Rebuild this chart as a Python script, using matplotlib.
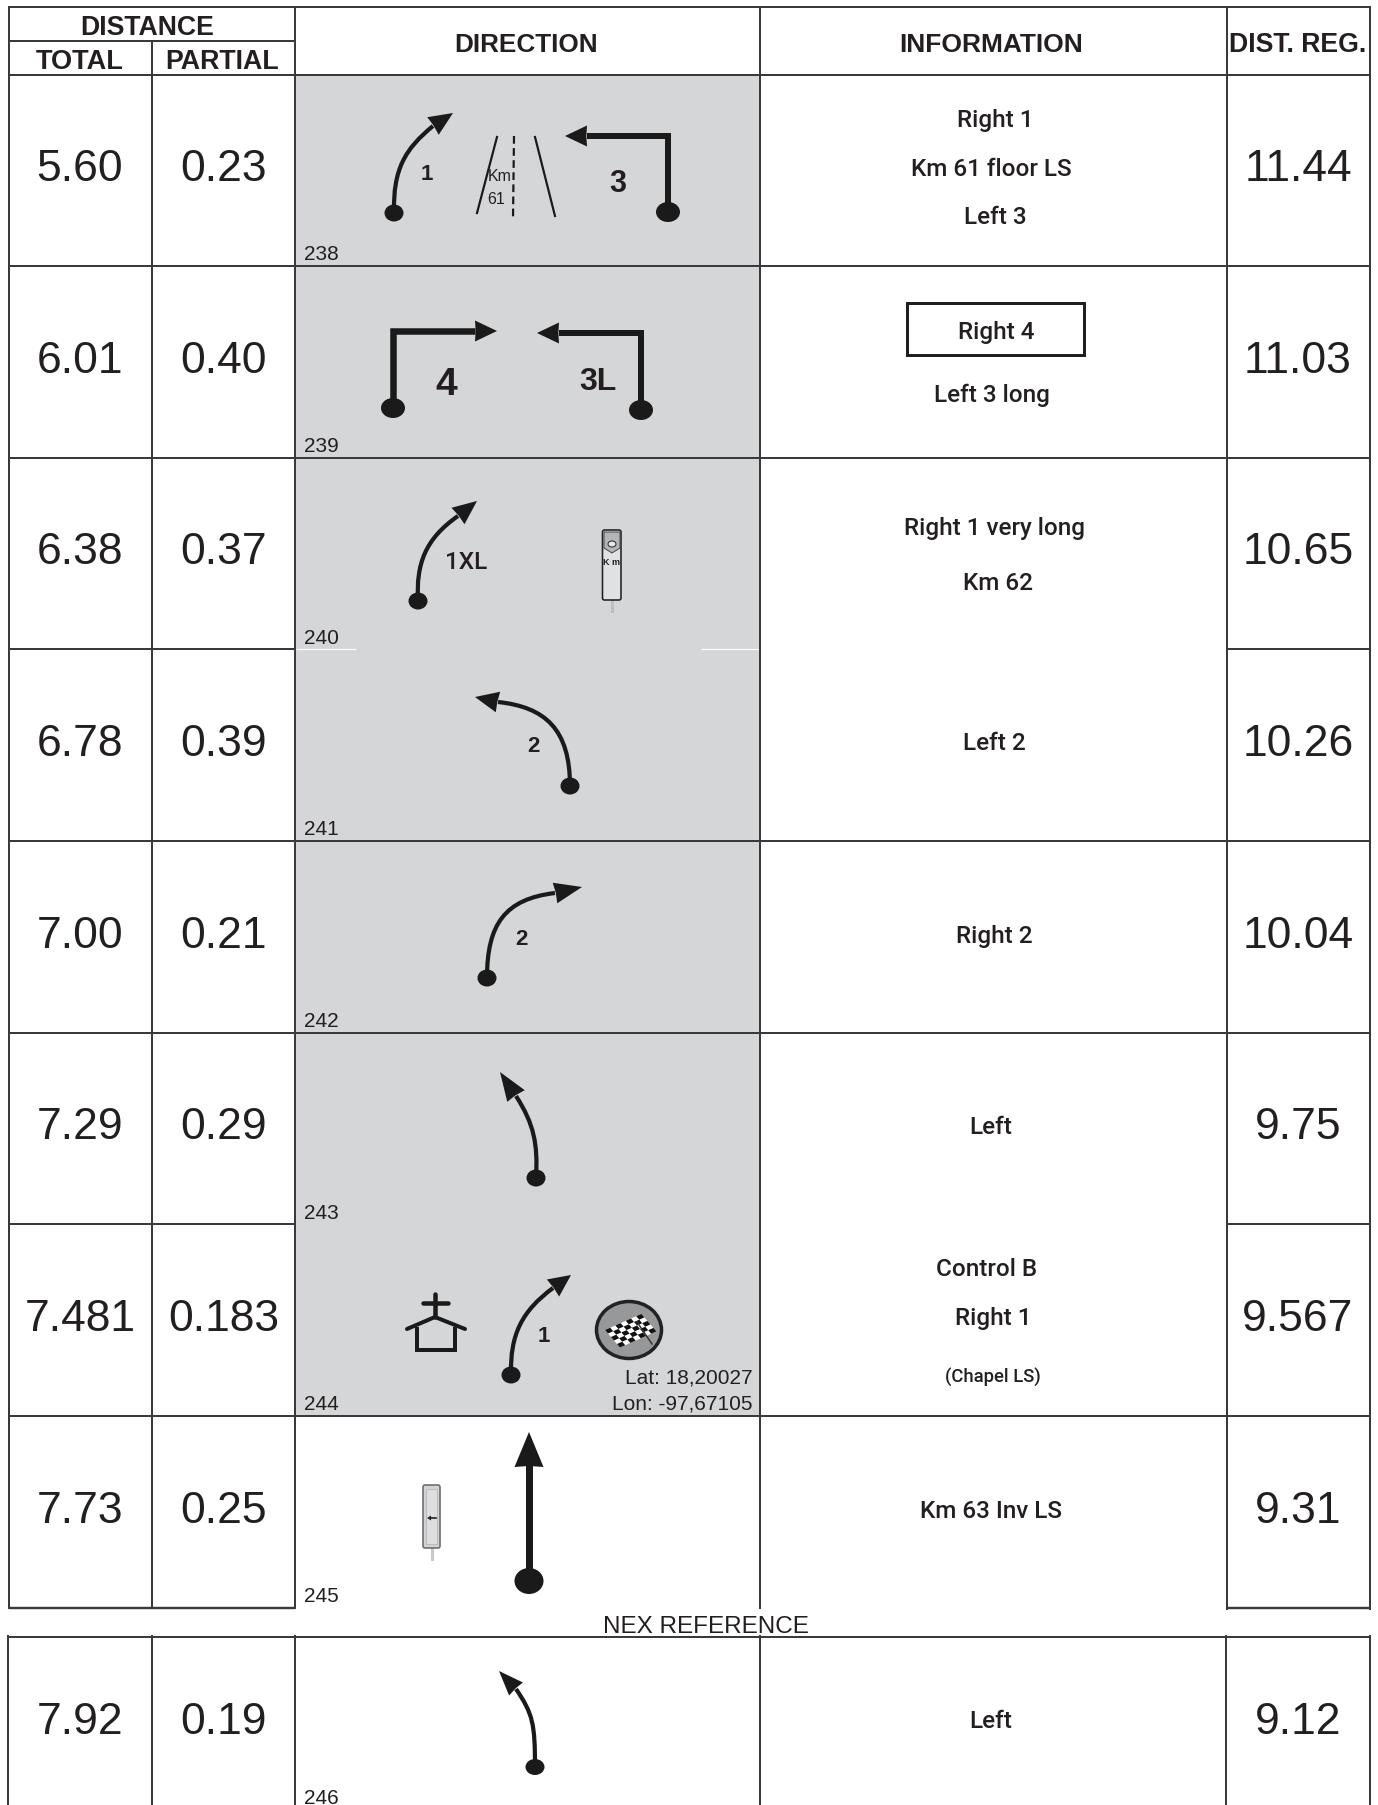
import numpy as np
import matplotlib
matplotlib.use("Agg")
import matplotlib.pyplot as plt
from matplotlib.path import Path
from matplotlib.patches import PathPatch, Ellipse, Polygon, Rectangle, FancyBboxPatch

# ---------- values ----------
refs = [238, 239, 240, 241, 242, 243, 244, 245, 246]
total = ["5.60", "6.01", "6.38", "6.78", "7.00", "7.29", "7.481", "7.73", "7.92"]
partial = ["0.23", "0.40", "0.37", "0.39", "0.21", "0.29", "0.183", "0.25", "0.19"]
dist_reg = ["11.44", "11.03", "10.65", "10.26", "10.04", "9.75", "9.567", "9.31", "9.12"]
info_text = ["Right 1", "Km 61 floor LS", "Left 3", "Right 4", "Left 3 long", "Right 1 very long",
             "Km 62", "Left 2", "Right 2", "Left", "Control B", "Right 1", "(Chapel LS)",
             "Km 63 Inv LS", "Left"]
headers = ["DISTANCE", "TOTAL", "PARTIAL", "DIRECTION", "INFORMATION", "DIST. REG."]
gps = ["Lat: 18,20027", "Lon: -97,67105"]
next_ref = "NEX REFERENCE"

# ---------- layout (pixels) ----------
W, H = 1378, 1806
row_y = [76, 267, 459, 650, 842, 1034, 1225, 1417, 1609]
cols = [8.5, 152, 295, 760, 1226.5, 1370]
cols2 = [8, 151.5, 294.5, 759.5, 1226, 1369.5]
num_y = [165, 357, 548, 740, 932, 1123, 1315, 1507, 1718]
ref_y = [253, 445, 637, 828, 1020, 1212, 1403, 1595, 1797]
info_xy = [(995.5, 120), (991, 168), (995.5, 217), (996.5, 331), (992, 395), (994, 528),
           (998, 583), (994, 743), (994, 936), (991, 1127), (987, 1269), (993, 1318),
           (993, 1377), (991, 1511), (991, 1721)]
INK = "#231f20"
LINE = "#3a3a3c"
GRAY = "#d5d6d8"
px = 0.72  # points per pixel at 100 dpi

fig = plt.figure(figsize=(W / 100, H / 100), dpi=100, facecolor="white")
ax = fig.add_axes([0, 0, 1, 1])
ax.set_xlim(0, W)
ax.set_ylim(H, 0)
ax.axis("off")
SANS = "Liberation Sans"


def hline(y, x0, x1, color=LINE, lw=2.0):
    ax.plot([x0, x1], [y, y], color=color, lw=lw * px, solid_capstyle="butt", zorder=3)


def vline(x, y0, y1, lw=2.0):
    ax.plot([x, x], [y0, y1], color=LINE, lw=lw * px, solid_capstyle="butt", zorder=3)


def head(tip, base, half):
    tip, base = np.array(tip, float), np.array(base, float)
    d = tip - base
    n = np.array([-d[1], d[0]]) / np.hypot(*d)
    pts = [tip, base + n * half, base + d * 0.03, base - n * half]
    ax.add_patch(Polygon(pts, closed=True, fc="#1a1a1a", ec="none", zorder=5))


def dot(xy, rx, ry):
    ax.add_patch(Ellipse(xy, 2 * rx, 2 * ry, fc="#1a1a1a", ec="none", zorder=5))


def curve(start, c1, c2, end, tip, half=10.5, lw=4.2, rx=9.5, ry=8.5):
    path = Path([start, c1, c2, end], [Path.MOVETO, Path.CURVE4, Path.CURVE4, Path.CURVE4])
    ax.add_patch(PathPatch(path, fc="none", ec="#1a1a1a", lw=lw * px, capstyle="butt", zorder=4))
    head(tip, end, half)
    dot(start, rx, ry)


def elbow(start, corner, end, tip, half=10.5, lw=6.5, rx=12, ry=10):
    ax.plot([start[0], corner[0], end[0]], [start[1], corner[1], end[1]], color="#1a1a1a",
            lw=lw * px, solid_joinstyle="miter", solid_capstyle="butt", zorder=4)
    head(tip, end, half)
    dot(start, rx, ry)


def label(x, y, s, size, bold=True):
    ax.text(x, y, s, fontsize=size, family=SANS, weight="bold" if bold else "normal",
            ha="center", va="center_baseline", color=INK, zorder=6)


# ---------- shaded direction column ----------
ax.add_patch(Rectangle((cols[2], row_y[0]), cols[3] - cols[2], row_y[7] - row_y[0], fc=GRAY, ec="none", zorder=1))

# ---------- grid ----------
hline(8, cols[0], cols[5])
hline(42, cols[0], cols[2])
hline(76, cols[0], cols[5])
for i, y in enumerate(row_y[1:], start=1):
    if i == 3 or i == 6:
        hline(y, cols[0], cols[2])
        hline(y, cols[4], cols[5])
    elif i == 8:
        hline(y, cols[0], cols[2], lw=2.4)
        hline(y, cols[4], cols[5], lw=2.4)
    else:
        hline(y, cols[0], cols[5])
hline(650, 296, 356, color="white", lw=1.2)
hline(650, 701, 759, color="white", lw=1.2)
vline(cols[0], 7, 1610)
vline(cols[1], 42, 1610)
vline(cols[2], 7, 1610)
vline(cols[3], 7, 1610)
vline(cols[4], 7, 1611)
vline(cols[5], 7, 1611)
hline(1638, cols2[0], cols2[5])
for x in cols2:
    vline(x, 1636, H)

# ---------- headers ----------
header_xy = [(147, 25), (80, 59), (222, 59), (526.5, 42), (991, 42), (1298, 42)]
header_fs = [19.2, 19.5, 19.3, 18.8, 19.0, 19.2]
for (x, y), s, fs in zip(header_xy, headers, header_fs):
    ax.text(x, y, s, fontsize=fs, family=SANS, weight="bold", ha="center", va="center_baseline", color=INK, zorder=6)

# ---------- numeric columns ----------
for y, a, b, c in zip(num_y, total, partial, dist_reg):
    for x, s in zip((80, 223.5, 1298), (a, b, c)):
        ax.text(x, y + 16, s, fontsize=32, family=SANS, ha="center", va="baseline", color=INK, zorder=6)
for r, y in zip(refs, ref_y):
    ax.text(304, y + 7.5, str(r), fontsize=15, family=SANS, ha="left", va="baseline", color=INK, zorder=6)

# ---------- information column ----------
for (x, y), s in zip(info_xy, info_text):
    small = s.startswith("(")
    ax.text(x, y + (5.5 if small else 7.5), s, fontsize=13.3 if small else 17.5, family="Roboto", weight=500,
            ha="center", va="baseline", color=INK, zorder=6)
ax.add_patch(Rectangle((907, 304), 177, 52, fc="none", ec="#1f1f1f", lw=3 * px, zorder=5))

# ---------- 238 ----------
curve((394, 214), (393, 170), (405, 150), (433, 127), (453, 114))
label(427, 172, "1", 16)
for seg in [((497, 138), (477, 214)), ((535, 138), (555, 217))]:
    ax.plot(*zip(*seg), color="#1a1a1a", lw=2.2 * px, zorder=4)
ax.plot([514, 513], [137, 220], color="#1a1a1a", lw=2.2 * px, ls=(0, (3.5, 2)), zorder=4)
ax.text(500, 175, "Km", fontsize=11.5, family=SANS, ha="center", va="center_baseline", color=INK, zorder=6)
ax.text(496, 198, "61", fontsize=11.5, family=SANS, ha="center", va="center_baseline", color=INK, zorder=6)
elbow((668, 213), (668, 137), (587, 137), (565, 137), lw=6)
label(618, 181, "3", 22)

# ---------- 239 ----------
elbow((393, 409), (393, 332), (475, 332), (497, 332), lw=6.5)
label(446, 381, "4", 28)
elbow((641, 411), (641, 334), (559, 334), (537, 334), lw=6)
label(598, 378, "3L", 23)

# ---------- 240 ----------
curve((418, 602), (416, 565), (425, 540), (458, 517), (477, 502))
ax.text(466, 560, "1XL", fontsize=17.5, family="Roboto", weight=500, ha="center", va="center_baseline", color=INK, zorder=6)
ax.plot([612, 612], [601, 612], color="#bdbec0", lw=3 * px, zorder=4)
ax.add_patch(FancyBboxPatch((602.5, 531), 18.5, 70, boxstyle="round,pad=0,rounding_size=2",
                            fc="#e0e1e3", ec="#222222", lw=1.6 * px, zorder=5))
ax.add_patch(Polygon([(604, 533), (620, 533), (620, 549), (612, 554), (604, 549)],
                     fc="#b4b5b7", ec="#444444", lw=0.7, zorder=6))
ax.add_patch(Ellipse((612, 545), 8, 6, fc="#e8e8e8", ec="#222222", lw=0.7, zorder=7))
hline(556, 603, 621, color="#222222", lw=1.6)
ax.text(611.5, 562, "K m", fontsize=6.5, family=SANS, weight="bold", ha="center", va="center_baseline", color=INK, zorder=6)

# ---------- 241 ----------
curve((570, 787), (570, 730), (545, 708), (498, 703), (475, 698))
label(533, 744, "2", 16)

# ---------- 242 ----------
curve((487, 979), (487, 925), (505, 900), (555, 894), (582, 888))
label(521, 937, "2", 16)

# ---------- 243 ----------
curve((536, 1179), (538, 1145), (534, 1125), (516, 1097), (500, 1073))

# ---------- 244 ----------
church = [((435, 1295), (435, 1318)), ((423, 1304), (448, 1304))]
for seg in church:
    ax.plot(*zip(*seg), color="#1a1a1a", lw=4.5 * px, solid_capstyle="round", zorder=4)
ax.plot([407, 435, 465], [1330, 1318, 1330], color="#1a1a1a", lw=4 * px, solid_capstyle="round", zorder=4)
ax.plot([417, 417, 455, 455], [1330, 1351, 1351, 1330], color="#1a1a1a", lw=4 * px, solid_joinstyle="miter", zorder=4)
curve((511, 1376), (510, 1335), (522, 1312), (553, 1289), (571, 1276))
label(544, 1334, "1", 16)
ax.add_patch(Ellipse((629, 1331), 65, 57, fc="#97989a", ec="#222222", lw=3.5 * px, zorder=4))
o = np.array([605.0, 1331.0])
u = np.array([5.2, -2.3])
v = np.array([3.0, 3.5])
ax.add_patch(Polygon([o, o + 7 * u, o + 7 * u + 5 * v, o + 5 * v], fc="white", ec="none", zorder=5))
for i in range(7):
    for j in range(5):
        if (i + j) % 2 == 0:
            c = o + i * u + j * v
            ax.add_patch(Polygon([c, c + u, c + u + v, c + v], fc="#111111", ec="none", zorder=6))
ax.plot([637, 652], [1323, 1345], color="#333333", lw=1.5 * px, zorder=7)
ax.text(753, 1376 + 7.5, gps[0], fontsize=15, family=SANS, ha="right", va="baseline", color=INK, zorder=6)
ax.text(753, 1402 + 7.5, gps[1], fontsize=15, family=SANS, ha="right", va="baseline", color=INK, zorder=6)

# ---------- 245 ----------
ax.plot([529, 529], [1582, 1466], color="#1a1a1a", lw=7 * px, solid_capstyle="butt", zorder=4)
head((529, 1433), (529, 1468), 14.5)
dot((529, 1582), 14.5, 13)
ax.plot([431.5, 431.5], [1549, 1560], color="#c8c9cb", lw=3 * px, zorder=3)
ax.add_patch(FancyBboxPatch((423, 1486), 17, 63, boxstyle="round,pad=0,rounding_size=2",
                            fc="#d2d3d5", ec="#6a6a6c", lw=1.6 * px, zorder=4))
ax.add_patch(Rectangle((426, 1490), 11, 55, fc="#dddee0", ec="#b5b6b8", lw=0.6, zorder=5))
ax.plot([430, 436], [1519, 1519], color="#222222", lw=1.2, zorder=6)
ax.add_patch(Polygon([(427, 1519), (431, 1516.5), (431, 1521.5)], fc="#222222", ec="none", zorder=6))

ax.text(706, 1633, next_ref, fontsize=17.5, family=SANS, ha="center", va="baseline", color=INK, zorder=6)

# ---------- 246 ----------
curve((535, 1768), (535, 1725), (533, 1715), (516, 1690), (499, 1672), half=9.5, rx=9.5, ry=8)

fig.savefig("out.png", dpi=100, facecolor="white")
